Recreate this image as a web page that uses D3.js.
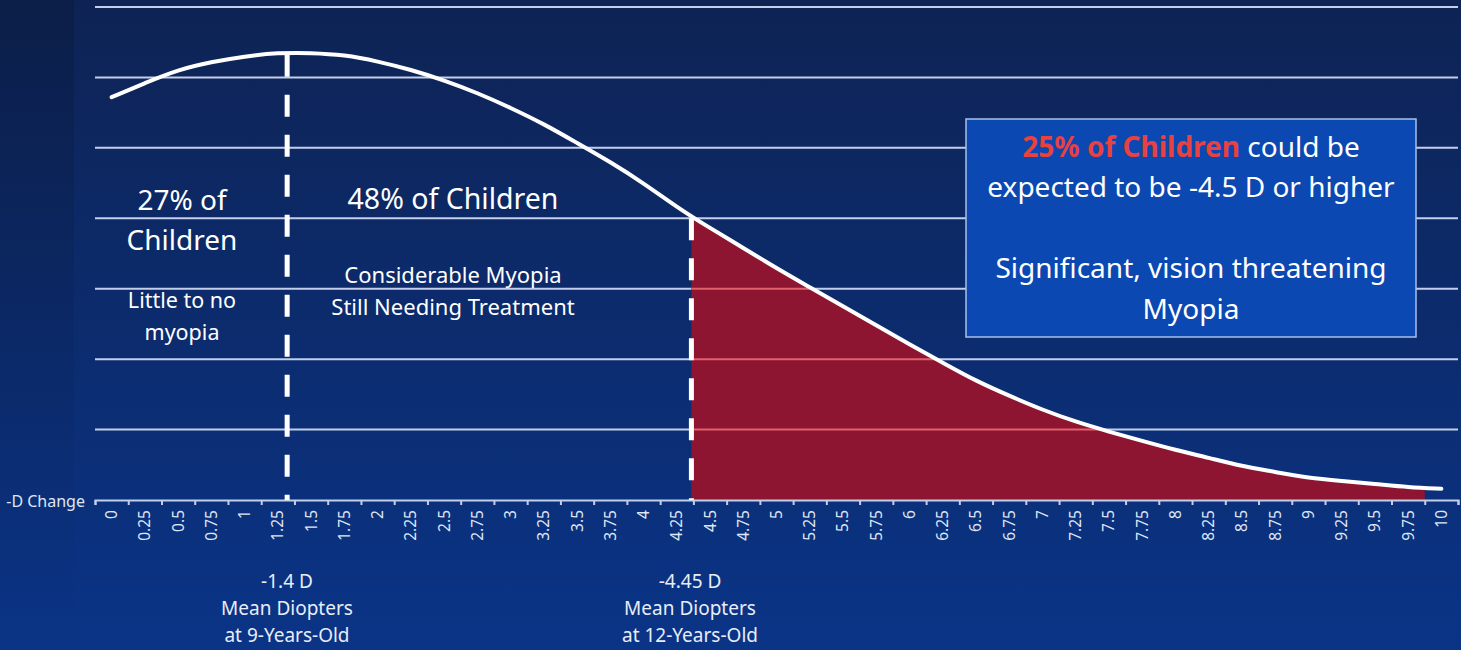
<!DOCTYPE html>
<html>
<head>
<meta charset="utf-8">
<script src="https://cdn.jsdelivr.net/npm/d3@7"></script>
<style>
  html, body { margin: 0; padding: 0; background: #0c2456; }
  svg { display: block; font-family: "Noto Sans", "Open Sans", sans-serif; }
</style>
</head>
<body>
<svg id="chart" width="1461" height="650"></svg>
<script>
// Diopter categories (x axis) and the curve
const diopters = [0, 0.25, 0.5, 0.75, 1, 1.25, 1.5, 1.75, 2, 2.25, 2.5, 2.75, 3, 3.25, 3.5, 3.75,
  4, 4.25, 4.5, 4.75, 5, 5.25, 5.5, 5.75, 6, 6.25, 6.5, 6.75, 7, 7.25, 7.5, 7.75,
  8, 8.25, 8.5, 8.75, 9, 9.25, 9.5, 9.75, 10];
const share = [57.2, 59.2, 61.1, 62.2, 63.0, 63.5, 63.5, 63.2, 62.3, 61.1, 59.6, 57.8, 55.7, 53.4, 50.7, 48.0,
  45.0, 41.6, 38.6, 35.8, 32.9, 30.2, 27.5, 24.8, 22.1, 19.5, 16.9, 14.8, 12.8, 11.1, 9.7, 8.4,
  7.1, 6.0, 4.8, 4.0, 3.1, 2.7, 2.3, 1.8, 1.6];
const gridValues = [10, 20, 30, 40, 50, 60, 70];

// Mean diopter markers and the shaded tail
const meanAge9 = 1.32;
const meanAge12 = 4.36;
const tailEnd = 9.875;

const data = diopters.map((d, i) => ({ x: d, y: share[i] }));

const svg = d3.select("#chart");
const W = 1461, H = 650;

// Background gradient
const defs = svg.append("defs");
const bg = defs.append("linearGradient").attr("id", "bg").attr("x1", 0).attr("y1", 0).attr("x2", 0).attr("y2", 1);
bg.append("stop").attr("offset", "0%").attr("stop-color", "#0e2354");
bg.append("stop").attr("offset", "100%").attr("stop-color", "#0a3487");
const side = defs.append("linearGradient").attr("id", "side").attr("x1", 0).attr("y1", 0).attr("x2", 0).attr("y2", 1);
side.append("stop").attr("offset", "0%").attr("stop-color", "#000814").attr("stop-opacity", 0.18);
side.append("stop").attr("offset", "100%").attr("stop-color", "#000814").attr("stop-opacity", 0);

svg.append("rect").attr("width", W).attr("height", H).attr("fill", "url(#bg)");
svg.append("rect").attr("width", 74).attr("height", H).attr("fill", "url(#side)");

// Scales
const xScale = d3.scaleLinear().domain([-0.125, 10.125]).range([95, 1458]);
const yScale = d3.scaleLinear().domain([0, 70]).range([500, 7]);

// Gridlines
svg.append("g")
  .selectAll("line")
  .data(gridValues)
  .enter()
  .append("line")
  .attr("x1", xScale(-0.125))
  .attr("x2", xScale(10.125))
  .attr("y1", d => yScale(d))
  .attr("y2", d => yScale(d))
  .attr("stroke", "#c3cfea")
  .attr("stroke-width", 2);

// Red tail area
const curve = d3.curveBasis;
defs.append("clipPath").attr("id", "tail")
  .append("rect")
  .attr("x", xScale(meanAge12))
  .attr("y", 0)
  .attr("width", xScale(tailEnd) - xScale(meanAge12))
  .attr("height", yScale(0));

const area = d3.area()
  .x(d => xScale(d.x))
  .y0(yScale(0))
  .y1(d => yScale(d.y) + 1.5)
  .curve(curve);

defs.append("clipPath").attr("id", "tailFill")
  .append("path")
  .datum(data)
  .attr("d", area);

const tailG = svg.append("g").attr("clip-path", "url(#tail)");
tailG.append("path")
  .datum(data)
  .attr("d", area)
  .attr("fill", "#8e1532");

// Gridlines seen through the red area
tailG.append("g")
  .attr("clip-path", "url(#tailFill)")
  .selectAll("line")
  .data(gridValues)
  .enter()
  .append("line")
  .attr("x1", xScale(meanAge12))
  .attr("x2", xScale(tailEnd))
  .attr("y1", d => yScale(d))
  .attr("y2", d => yScale(d))
  .attr("stroke", "#e0606c")
  .attr("stroke-width", 2);

// X axis
const xAxis = d3.axisBottom(xScale)
  .tickValues(d3.range(0, 42).map(i => -0.125 + i * 0.25))
  .tickSize(5)
  .tickFormat("");

const axisG = svg.append("g")
  .attr("transform", `translate(0, ${ yScale(0) })`)
  .call(xAxis);
axisG.select(".domain").attr("stroke", "#c3cfea").attr("stroke-width", 2);
axisG.selectAll(".tick line").attr("stroke", "#c3cfea").attr("stroke-width", 2);

// Tick labels between the tick marks
svg.append("g")
  .selectAll("text")
  .data(diopters)
  .enter()
  .append("text")
  .attr("transform", d => `translate(${ xScale(d) + 5.5 }, 510) rotate(-90)`)
  .attr("text-anchor", "end")
  .attr("font-size", "15.5px")
  .attr("fill", "#dfe6f5")
  .text(d => d);

svg.append("text")
  .attr("x", 85)
  .attr("y", 507)
  .attr("text-anchor", "end")
  .attr("font-size", "16px")
  .attr("fill", "#dfe6f5")
  .text("-D Change");

// The curve
const line = d3.line()
  .x(d => xScale(d.x))
  .y(d => yScale(d.y))
  .curve(curve);

svg.append("path")
  .datum(data)
  .attr("d", line)
  .attr("fill", "none")
  .attr("stroke", "#ffffff")
  .attr("stroke-width", 4)
  .attr("stroke-linecap", "round");

// Dashed mean lines, starting at the curve
const curveAt = x => {
  const i = d3.bisectLeft(diopters, x);
  const a = data[i - 1], b = data[i];
  return a.y + (b.y - a.y) * (x - a.x) / (b.x - a.x);
};

[meanAge9, meanAge12].forEach(m => {
  svg.append("line")
    .attr("x1", xScale(m))
    .attr("x2", xScale(m))
    .attr("y1", yScale(curveAt(m)) + 2)
    .attr("y2", yScale(0))
    .attr("stroke", "#ffffff")
    .attr("stroke-width", 5)
    .attr("stroke-dasharray", "22 18");
});

// Region annotations
const addLines = (x, ys, lines, size, color) => {
  lines.forEach((t, i) => {
    svg.append("text")
      .attr("x", x)
      .attr("y", ys[i])
      .attr("text-anchor", "middle")
      .attr("font-size", size)
      .attr("fill", color || "#ffffff")
      .text(t);
  });
};

addLines(182, [210, 250], ["27% of", "Children"], "28px");
addLines(182, [308, 340], ["Little to no", "myopia"], "21.5px");
addLines(453, [209], ["48% of Children"], "28.5px");
addLines(453, [283, 315], ["Considerable Myopia", "Still Needing Treatment"], "22px");

addLines(287, [588, 615, 642], ["-1.4 D", "Mean Diopters", "at 9-Years-Old"], "19px", "#e8edf7");
addLines(690, [588, 615, 642], ["-4.45 D", "Mean Diopters", "at 12-Years-Old"], "19px", "#e8edf7");

// Callout box
svg.append("rect")
  .attr("x", 966)
  .attr("y", 119)
  .attr("width", 450)
  .attr("height", 218)
  .attr("fill", "#0b48b2")
  .attr("stroke", "#a9c0e8")
  .attr("stroke-width", 1.5);

const head = svg.append("text")
  .attr("x", 1191)
  .attr("y", 157)
  .attr("text-anchor", "middle")
  .attr("font-size", "28px")
  .attr("fill", "#ffffff");
head.append("tspan").attr("fill", "#e8413f").attr("font-weight", "bold").text("25% of Children");
head.append("tspan").text(" could be");

addLines(1191, [197, 278, 319], ["expected to be -4.5 D or higher", "Significant, vision threatening", "Myopia"], "28px");
</script>
</body>
</html>
